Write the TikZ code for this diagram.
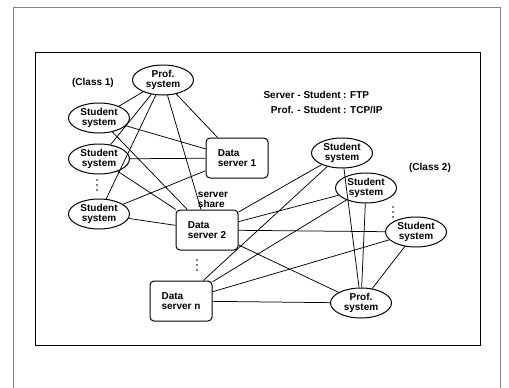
\documentclass[tikz,border=0pt]{standalone}
\usepackage{fontspec}
\setmainfont{Liberation Sans}
\usepackage{tikz}
\usetikzlibrary{shapes.geometric}

\begin{document}
\begin{tikzpicture}[x=1pt,y=-1pt,
	sistema/.style={draw,ellipse,line width=1pt,minimum width=61pt,minimum height=30pt,inner sep=0pt,align=center,font=\bfseries\fontsize{10}{10}\selectfont},
	servidor/.style={draw,rounded corners=4pt,line width=1pt,minimum width=62pt,minimum height=40pt,align=left,font=\bfseries\fontsize{10}{10.5}\selectfont},
	rotulo/.style={inner sep=0pt,font=\bfseries\fontsize{10}{10}\selectfont},
	enlace/.style={line width=0.75pt}]
	\useasboundingbox (0,0) rectangle (509,388);
	% marcos
	\draw[gray,line width=0.6pt] (13,388) -- (13,7) -- (500,7) -- (500,388);
	\draw[line width=1pt] (35,52) rectangle (480,345);
	% clase 1
	\node[sistema] (prof1) at (163,80) {Prof.\\system};
	\node[sistema] (est1) at (99,118) {Student\\system};
	\node[sistema] (est2) at (99,159) {Student\\system};
	\node[sistema] (est3) at (99,214) {Student\\system};
	\node[rotulo] (clase1) at (93,83) {(Class 1)};
	% servidores
	\node[servidor] (ds1) at (237,158) {Data\\server 1};
	\node[rotulo,align=left,font=\bfseries\fontsize{10}{10}\selectfont] (share) at (213,200) {server\\share};
	\node[servidor] (ds2) at (207,230) {Data\\server 2};
	\node[servidor] (dsn) at (181,301) {Data\\server n};
	% clase 2
	\node[sistema] (est4) at (342,153) {Student\\system};
	\node[sistema] (est5) at (366,188) {Student\\system};
	\node[sistema] (est6) at (416,232) {Student\\system};
	\node[sistema] (prof2) at (361,303) {Prof.\\system};
	\node[rotulo] (clase2) at (430,168) {(Class 2)};
	% puntos suspensivos
	\foreach \px/\py in {97/185,197/265,393/212}
		\foreach \d in {-5,0,5}
			\fill (\px,\py+\d) circle (0.9pt);
	% protocolos
	\node[rotulo,anchor=east] (ftp1) at (341,95) {Server - Student};
	\node[rotulo,anchor=west] (ftp2) at (343,95) {: FTP};
	\node[rotulo,anchor=east] (tcp1) at (341,110) {Prof. - Student};
	\node[rotulo,anchor=west] (tcp2) at (343,110) {: TCP/IP};
	% enlaces clase 1
	\foreach \a/\b in {prof1/est1,prof1/est2,prof1/est3,prof1/ds1,prof1/ds2,
		est1/ds1,est1/ds2,est2/ds1,est2/ds2,est3/ds1,est3/ds2}
		\draw[enlace] (\a) -- (\b);
	% enlaces clase 2
	\foreach \a/\b in {ds2/est4,ds2/est5,ds2/est6,ds2/prof2,
		dsn/est4,dsn/est5,dsn/est6,dsn/prof2,
		est4/prof2,est5/prof2,est6/prof2}
		\draw[enlace] (\a) -- (\b);
\end{tikzpicture}
\end{document}
